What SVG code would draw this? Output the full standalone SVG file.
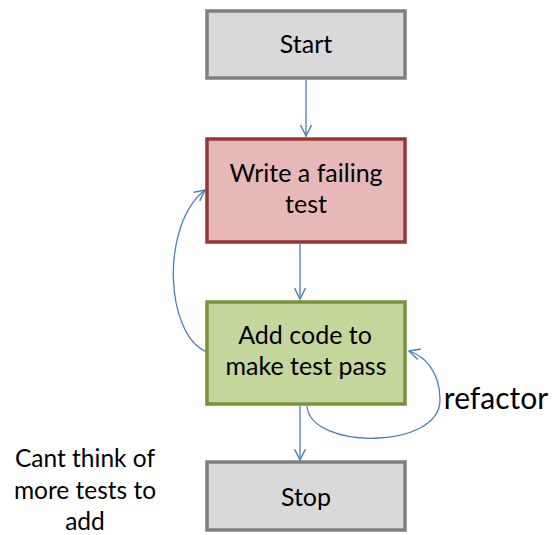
<svg xmlns="http://www.w3.org/2000/svg" width="555" height="535" viewBox="0 0 555 535">
  <defs>
    <marker id="open-arrow" viewBox="0 0 12 12" refX="11" refY="6" markerWidth="13" markerHeight="13" markerUnits="userSpaceOnUse" orient="auto">
      <path d="M1,1 L11,6 L1,11" fill="none" stroke="#4a7ebb" stroke-width="1.3"/>
    </marker>
  </defs>
  <style>
    .box { stroke-width: 3.5; }
    .grey { fill: #d9d9d9; stroke: #7f7f7f; }
    .red { fill: #e6b9b8; stroke: #953735; }
    .green { fill: #c3d69b; stroke: #77933c; }
    .label { font-family: Lato, "Liberation Sans", sans-serif; font-size: 25px; fill: #000; text-anchor: middle; }
    .edge { fill: none; stroke: #4a7ebb; stroke-width: 1.3; marker-end: url(#open-arrow); }
  </style>
  <rect width="555" height="535" fill="#fff"/>

  <g id="connectors">
    <path class="edge" d="M306,80 L306,136"/>
    <path class="edge" d="M300,244 L300,299"/>
    <path class="edge" d="M300,406 L300,460"/>
    <path class="edge" d="M207,352 C165,335 160,225 205,190"/>
    <path class="edge" d="M307,406 C310,450 440,450 440,400 C440,372 425,356 409,351"/>
  </g>

  <g id="start">
    <rect class="box grey" x="207" y="11" width="198" height="67"/>
    <text class="label" x="306" y="53">Start</text>
  </g>

  <g id="write-test">
    <rect class="box red" x="207" y="139" width="198" height="103"/>
    <text class="label" x="306" y="182">Write a failing</text>
    <text class="label" x="306" y="213">test</text>
  </g>

  <g id="make-pass">
    <rect class="box green" x="207" y="302" width="198" height="102"/>
    <text class="label" x="305" y="344">Add code to</text>
    <text class="label" x="306" y="375">make test pass</text>
  </g>

  <g id="stop">
    <rect class="box grey" x="207" y="462" width="198" height="68"/>
    <text class="label" x="306" y="506">Stop</text>
  </g>

  <text class="label" x="496" y="409" style="font-size:30px">refactor</text>
  <text class="label" x="85" y="467" style="font-size:24.5px">Cant think of</text>
  <text class="label" x="85" y="499" style="font-size:24.5px">more tests to</text>
  <text class="label" x="85" y="530" style="font-size:24.5px">add</text>
</svg>
